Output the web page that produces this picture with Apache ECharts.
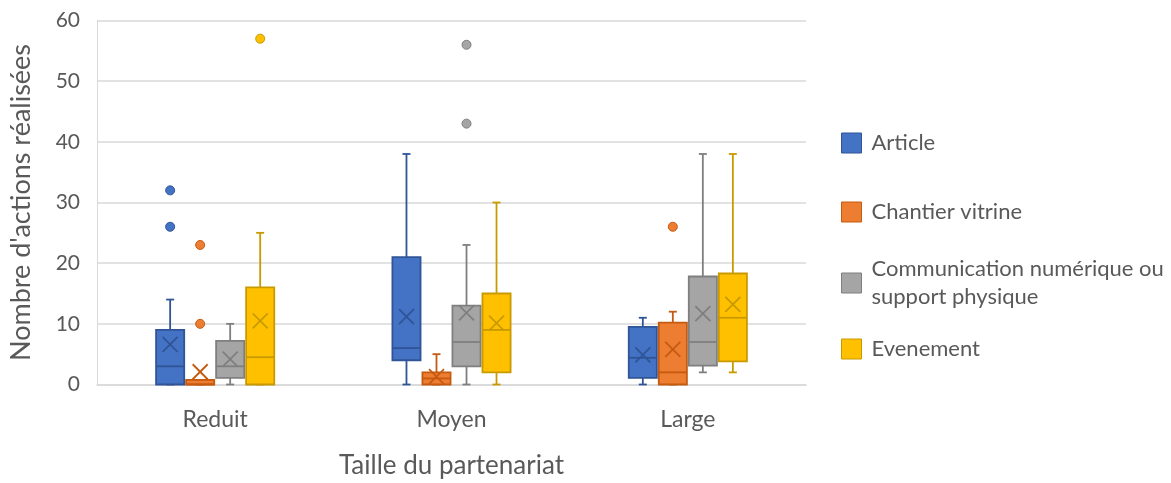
<!DOCTYPE html>
<html>
<head>
<meta charset="utf-8">
<script src="https://cdn.jsdelivr.net/npm/echarts@6/dist/echarts.min.js"></script>
<style>
  html, body { margin: 0; padding: 0; background: #fff; }
  #chart { width: 1171px; height: 483px; }
</style>
</head>
<body>
<div id="chart"></div>
<script>
const categories = ['Reduit', 'Moyen', 'Large']
const seriesNames = ['Article', 'Chantier vitrine', 'Communication numérique ou support physique', 'Evenement']
const yTicks = { min: 0, max: 60, interval: 10 }

// [min, Q1, median, Q3, max] per category
const articleBoxes = [[0, 0, 3, 9, 14], [0, 4, 6, 21, 38], [0, 1.1, 4.4, 9.5, 11]]
const articleMeans = [6.6, 11.2, 4.9]
const articleOutliers = [[0, 32], [0, 26]]

const chantierBoxes = [[0, 0, 0, 0.75, 0.75], [0, 0, 1, 2, 5], [0, 0, 2, 10.2, 12]]
const chantierMeans = [2.1, 1.3, 5.8]
const chantierOutliers = [[0, 23], [0, 10], [2, 26]]

const communicationBoxes = [[0, 1.1, 3, 7.2, 10], [0, 3, 7, 13, 23], [2, 3.1, 7, 17.8, 38]]
const communicationMeans = [4.2, 11.8, 11.7]
const communicationOutliers = [[1, 56], [1, 43]]

const evenementBoxes = [[0, 0, 4.5, 16, 25], [0, 2, 9, 15, 30], [2, 3.8, 11, 18.3, 38]]
const evenementMeans = [10.5, 10.1, 13.2]
const evenementOutliers = [[0, 57]]

const fills = ['#4472C4', '#ED7D31', '#A5A5A5', '#FFC000']
const strokes = ['#2F5597', '#C55A11', '#7F7F7F', '#C99A00']
const textColor = '#595959'
const font = 'Lato'

const BOX_STEP = 0.127
const BOX_WIDTH = 0.119

const makeRenderItem = (outliers, slot) => (params, api) => {
  const ci = api.value(0)
  const band = api.size([1, 0])[0]
  const cx = api.coord([ci, 0])[0] + (slot - 1.5) * band * BOX_STEP
  const half = band * BOX_WIDTH / 2
  const y = v => api.coord([ci, v])[1]
  const fill = fills[slot]
  const stroke = strokes[slot]
  const [vMin, q1, med, q3, vMax, mean] = [1, 2, 3, 4, 5, 6].map(d => api.value(d))
  const line = (x1, y1, x2, y2) => ({
    type: 'line',
    shape: { x1, y1, x2, y2 },
    style: { stroke, lineWidth: 1.8 }
  })
  const cap = 4
  const m = 7.5
  const children = [
    line(cx, y(vMax), cx, y(q3)),
    line(cx - cap, y(vMax), cx + cap, y(vMax)),
    line(cx, y(q1), cx, y(vMin)),
    line(cx - cap, y(vMin), cx + cap, y(vMin)),
    {
      type: 'rect',
      shape: { x: cx - half, y: y(q3), width: half * 2, height: y(q1) - y(q3) },
      style: { fill, stroke, lineWidth: 1.8 }
    },
    line(cx - half, y(med), cx + half, y(med)),
    line(cx - m, y(mean) - m, cx + m, y(mean) + m),
    line(cx - m, y(mean) + m, cx + m, y(mean) - m)
  ]
  outliers.filter(o => o[0] === ci).forEach(o => {
    const p = api.coord([ci, o[1]])
    children.push({
      type: 'circle',
      shape: { cx, cy: p[1], r: 4.5 },
      style: { fill, stroke, lineWidth: 1 }
    })
  })
  return { type: 'group', children }
}

const buildData = (boxes, means) => boxes.map((b, i) => [i, ...b, means[i]])

const seriesDefs = [
  [articleBoxes, articleMeans, articleOutliers],
  [chantierBoxes, chantierMeans, chantierOutliers],
  [communicationBoxes, communicationMeans, communicationOutliers],
  [evenementBoxes, evenementMeans, evenementOutliers]
]

const legendCenters = [143, 212, 283, 349]
const legendLabels = ['Article', 'Chantier vitrine', 'Communication numérique ou\nsupport physique', 'Evenement']

const chart = echarts.init(document.getElementById('chart'))

const option = {
  backgroundColor: '#fff',
  animation: false,
  textStyle: { fontFamily: font },
  grid: {
    left: 97,
    right: 365,
    top: 20.5,
    bottom: 98.5,
    outerBoundsMode: 'none'
  },
  legend: legendLabels.map((label, i) => ({
    left: 841,
    top: legendCenters[i] - (i === 2 ? 28 : 14),
    orient: 'vertical',
    padding: 0,
    icon: 'rect',
    itemWidth: 20,
    itemHeight: 20,
    selectedMode: false,
    formatter: () => label,
    textStyle: {
      color: textColor,
      fontFamily: font,
      fontSize: 22,
      lineHeight: 28,
      padding: [0, 0, 0, 5]
    },
    data: [{
      name: seriesNames[i],
      itemStyle: { color: fills[i], borderColor: strokes[i], borderWidth: 1 }
    }]
  })),
  xAxis: {
    type: 'category',
    data: categories,
    name: 'Taille du partenariat',
    nameLocation: 'middle',
    nameGap: 68,
    nameTextStyle: { color: textColor, fontFamily: font, fontSize: 26 },
    axisLine: { lineStyle: { color: '#d9d9d9', width: 1.5 } },
    axisTick: { show: false },
    axisLabel: { color: textColor, fontFamily: font, fontSize: 23, margin: 24 }
  },
  yAxis: {
    type: 'value',
    min: yTicks.min,
    max: yTicks.max,
    interval: yTicks.interval,
    name: "Nombre d'actions réalisées",
    nameLocation: 'middle',
    nameGap: 62,
    nameTextStyle: { color: textColor, fontFamily: font, fontSize: 27 },
    axisLine: { show: true, lineStyle: { color: '#d9d9d9', width: 1 } },
    axisTick: { show: false },
    splitLine: { lineStyle: { color: '#d9d9d9', width: 1.5 } },
    axisLabel: { color: textColor, fontFamily: font, fontSize: 21, margin: 17 }
  },
  series: seriesDefs.map(([boxes, means, outliers], i) => ({
    type: 'custom',
    name: seriesNames[i],
    itemStyle: { color: fills[i] },
    encode: { x: 0, y: [1, 2, 3, 4, 5, 6] },
    renderItem: makeRenderItem(outliers, i),
    data: buildData(boxes, means)
  }))
}

chart.setOption(option)
window.addEventListener('resize', () => chart.resize())
</script>
</body>
</html>
